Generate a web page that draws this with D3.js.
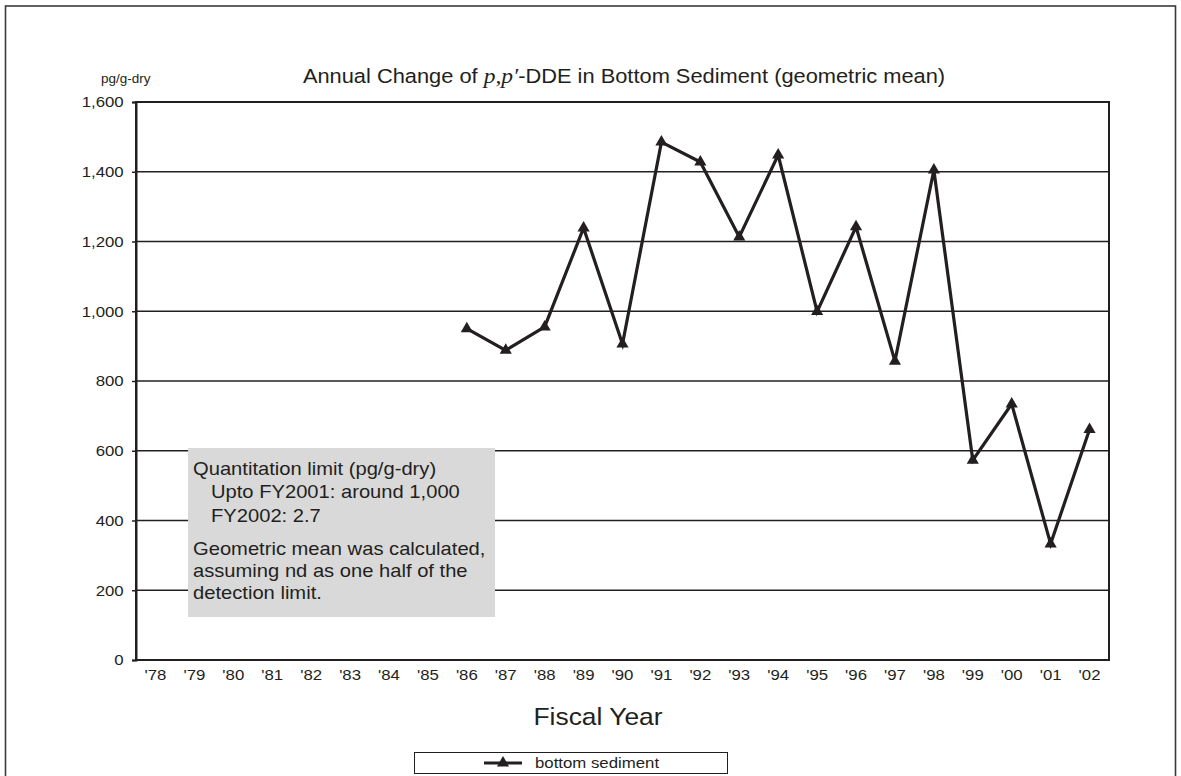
<!DOCTYPE html>
<html>
<head>
<meta charset="utf-8">
<script src="https://cdn.jsdelivr.net/npm/d3@7"></script>
<style>
  html, body { margin: 0; padding: 0; background: #fff; }
  svg { display: block; }
  text { font-family: "Liberation Sans", Arial, sans-serif; fill: #231f20; }
</style>
</head>
<body>
<svg id="chart" width="1181" height="776"></svg>
<script>
// Fiscal years on the category axis
const years = ["'78","'79","'80","'81","'82","'83","'84","'85","'86","'87","'88","'89",
               "'90","'91","'92","'93","'94","'95","'96","'97","'98","'99","'00","'01","'02"];
// Geometric mean of p,p'-DDE in bottom sediment (pg/g-dry); no survey before FY1986
const sediment = [null,null,null,null,null,null,null,null,
                  950, 888, 955, 1239, 906, 1485, 1428, 1213, 1448, 999, 1242, 857, 1405,
                  573, 734, 333, 661];
const yTicks = [0, 200, 400, 600, 800, 1000, 1200, 1400, 1600];
const noteLines = [
  {text: "Quantitation limit (pg/g-dry)", indent: 0, dy: 0},
  {text: "Upto FY2001: around 1,000", indent: 1, dy: 23},
  {text: "FY2002: 2.7", indent: 1, dy: 24},
  {text: "Geometric mean was calculated,", indent: 0, dy: 33},
  {text: "assuming nd as one half of the", indent: 0, dy: 22},
  {text: "detection limit.", indent: 0, dy: 22}
];
const seriesName = "bottom sediment";

const ink = "#231f20";
const SX = 1.12; // slightly wide lettering
const svg = d3.select("#chart");

// text placed at (x,y) and widened horizontally
function label(parent, x, y, size, anchor, sx = SX) {
  return parent.append("g")
    .attr("transform", `translate(${x},${y}) scale(${sx},1)`)
    .append("text")
    .attr("text-anchor", anchor)
    .style("font-size", size + "px");
}

// outer frame
svg.append("rect")
  .attr("x", 5.5).attr("y", 6).attr("width", 1170).attr("height", 790)
  .attr("fill", "none").attr("stroke", "#3a3a3a").attr("stroke-width", 1.6);

const plot = {left: 136, right: 1109, top: 102, bottom: 660};

const x = d3.scaleBand().domain(years).range([plot.left, plot.right]).padding(0);
const y = d3.scaleLinear().domain([0, 1600]).range([plot.bottom, plot.top]);
const cx = d => x(d) + x.bandwidth() / 2;

// horizontal grid lines
svg.append("g").selectAll("line")
  .data(yTicks.filter(v => v > 0))
  .join("line")
  .attr("x1", plot.left).attr("x2", plot.right)
  .attr("y1", d => y(d)).attr("y2", d => y(d))
  .attr("stroke", ink).attr("stroke-width", 1.5);

// plot frame
svg.append("rect")
  .attr("x", plot.left).attr("y", plot.top)
  .attr("width", plot.right - plot.left).attr("height", plot.bottom - plot.top)
  .attr("fill", "none").attr("stroke", ink).attr("stroke-width", 2);

// y axis
const yAxis = svg.append("g")
  .attr("transform", `translate(${plot.left},0)`)
  .call(d3.axisLeft(y).tickValues(yTicks).tickSize(4).tickPadding(7)
        .tickFormat(d3.format(",")));
yAxis.select(".domain").attr("stroke", ink).attr("stroke-width", 2);
yAxis.selectAll(".tick line").attr("stroke", ink).attr("stroke-width", 1.5);
yAxis.selectAll(".tick text")
  .style("font-family", "'Liberation Sans', Arial, sans-serif")
  .style("font-size", "15px").attr("fill", ink)
  .attr("transform", `scale(${SX},1)`);

// x axis (labels only)
const xAxis = svg.append("g")
  .attr("transform", `translate(0,${plot.bottom})`)
  .call(d3.axisBottom(x).tickSize(0).tickPadding(9));
xAxis.select(".domain").remove();
xAxis.selectAll(".tick text")
  .style("font-family", "'Liberation Sans', Arial, sans-serif")
  .style("font-size", "15px").attr("fill", ink)
  .attr("transform", `scale(${SX},1)`);

// note box
const note = svg.append("g");
note.append("rect")
  .attr("x", 188).attr("y", 448).attr("width", 307).attr("height", 169)
  .attr("fill", "#d9d9d9");
let ny = 475;
noteLines.forEach(l => {
  ny += l.dy;
  label(note, 193 + l.indent * 18, ny, 18, "start").text(l.text);
});

// data line and markers
const pts = years.map((yr, i) => ({yr, v: sediment[i]})).filter(d => d.v != null);
const line = d3.line().x(d => cx(d.yr)).y(d => y(d.v));
svg.append("path")
  .datum(pts)
  .attr("d", line)
  .attr("fill", "none").attr("stroke", ink).attr("stroke-width", 3.2)
  .attr("stroke-linejoin", "miter");

const tri = d3.symbol().type(d3.symbolTriangle).size(64);
svg.append("g").selectAll("path")
  .data(pts)
  .join("path")
  .attr("transform", d => `translate(${cx(d.yr)},${y(d.v)})`)
  .attr("d", tri)
  .attr("fill", ink);

// titles
label(svg, 101, 83, 13.5, "start", 1).text("pg/g-dry");

const title = label(svg, 624, 83, 19.5, "middle");
title.append("tspan").text("Annual Change of ");
title.append("tspan")
  .style("font-family", "'Liberation Serif', 'Times New Roman', serif")
  .style("font-style", "italic").style("font-size", "21px")
  .text("p,p\u2032");
title.append("tspan").text("-DDE in Bottom Sediment (geometric mean)");

label(svg, 598, 725, 24, "middle", 1.1).text("Fiscal Year");

// legend
const lg = svg.append("g");
lg.append("rect")
  .attr("x", 414.5).attr("y", 752.5).attr("width", 313).attr("height", 21)
  .attr("fill", "#fff").attr("stroke", ink).attr("stroke-width", 1);
lg.append("line")
  .attr("x1", 484).attr("x2", 522).attr("y1", 763).attr("y2", 763)
  .attr("stroke", ink).attr("stroke-width", 3.2);
lg.append("path")
  .attr("transform", "translate(503,763)")
  .attr("d", tri).attr("fill", ink);
label(lg, 535, 768, 15, "start").text(seriesName);
</script>
</body>
</html>
